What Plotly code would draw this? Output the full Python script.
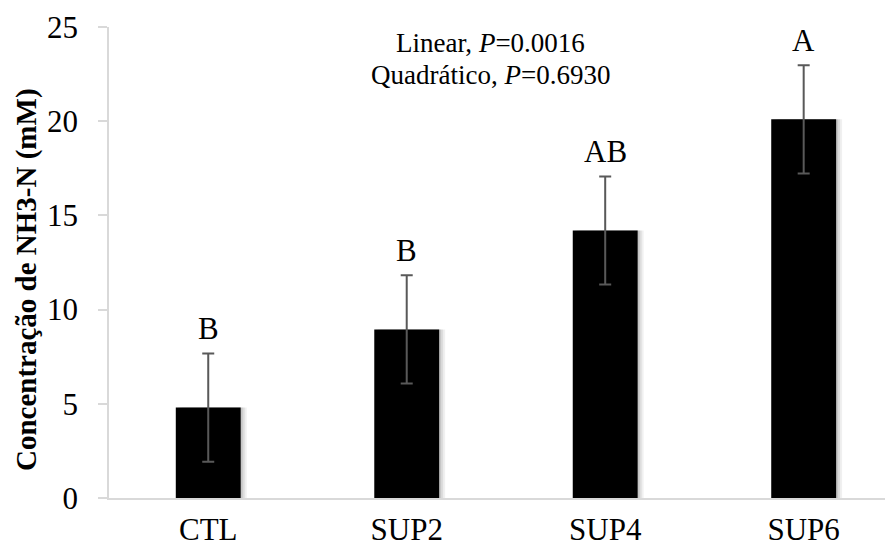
import plotly.graph_objects as go

categories = ["CTL", "SUP2", "SUP4", "SUP6"]
means = [4.8, 8.95, 14.2, 20.1]
errors = [2.87, 2.87, 2.87, 2.87]
letters = ["B", "B", "AB", "A"]
y_ticks = [0, 5, 10, 15, 20, 25]

FONT = "Liberation Serif, Times New Roman, serif"
BAR_W = 0.327
PX = 1 / 198.5  # one pixel in category units

fig = go.Figure()
# soft drop shadow (Excel style)
for k, a in [(6, 0.06), (4, 0.08), (2, 0.10)]:
    fig.add_trace(go.Bar(
        x=categories, y=means, width=BAR_W, offset=-BAR_W / 2 + k * PX,
        marker=dict(color=f"rgba(0,0,0,{a})", line=dict(width=0)),
        hoverinfo="skip",
    ))
fig.add_trace(go.Bar(
    x=categories, y=means, width=BAR_W, offset=-BAR_W / 2,
    marker=dict(color="black", line=dict(width=0)),
    error_y=dict(type="data", array=errors, visible=True,
                 color="#595959", thickness=2, width=6),
))

for c, m, e, l in zip(categories, means, errors, letters):
    fig.add_annotation(x=c, y=m + e, text=l, showarrow=False,
                       yanchor="middle", yshift=25,
                       font=dict(family=FONT, size=31, color="black"))

fig.add_annotation(x=1.42, y=24.13, xref="x", yref="y",
                   text="Linear, <i>P</i>=0.0016", showarrow=False,
                   font=dict(family=FONT, size=27, color="black"))
fig.add_annotation(x=1.42, y=22.43, xref="x", yref="y",
                   text="Quadrático, <i>P</i>=0.6930", showarrow=False,
                   font=dict(family=FONT, size=27, color="black"))

fig.add_annotation(x=-0.1046, y=0.465, xref="paper", yref="paper",
                   text="<b>Concentração de NH3-N (mM)</b>", textangle=-90,
                   showarrow=False, xanchor="center", yanchor="middle",
                   font=dict(family=FONT, size=29, color="black"))

# the page body has an 8px default margin, so the figure is sized to fit
fig.update_layout(
    width=885, height=540,
    margin=dict(l=101, r=0, t=19, b=50, autoexpand=False),
    plot_bgcolor="white", paper_bgcolor="white",
    showlegend=False, barmode="overlay",
    font=dict(family=FONT, size=31, color="black"),
    xaxis=dict(showline=True, linecolor="#d9d9d9", linewidth=1.7,
               ticks="", showgrid=False, automargin=False,
               ticklabelstandoff=3,
               tickfont=dict(family=FONT, size=31, color="black"),
               range=[-0.5, 3.45]),
    yaxis=dict(range=[0, 25], tickvals=y_ticks, showline=True,
               linecolor="#d9d9d9", linewidth=1.7, ticks="outside",
               tickcolor="#d9d9d9", ticklen=9, tickwidth=1.7,
               showgrid=False, zeroline=False, automargin=False,
               ticklabelstandoff=14,
               tickfont=dict(family=FONT, size=31, color="black")),
)

fig.write_html("out.html")
